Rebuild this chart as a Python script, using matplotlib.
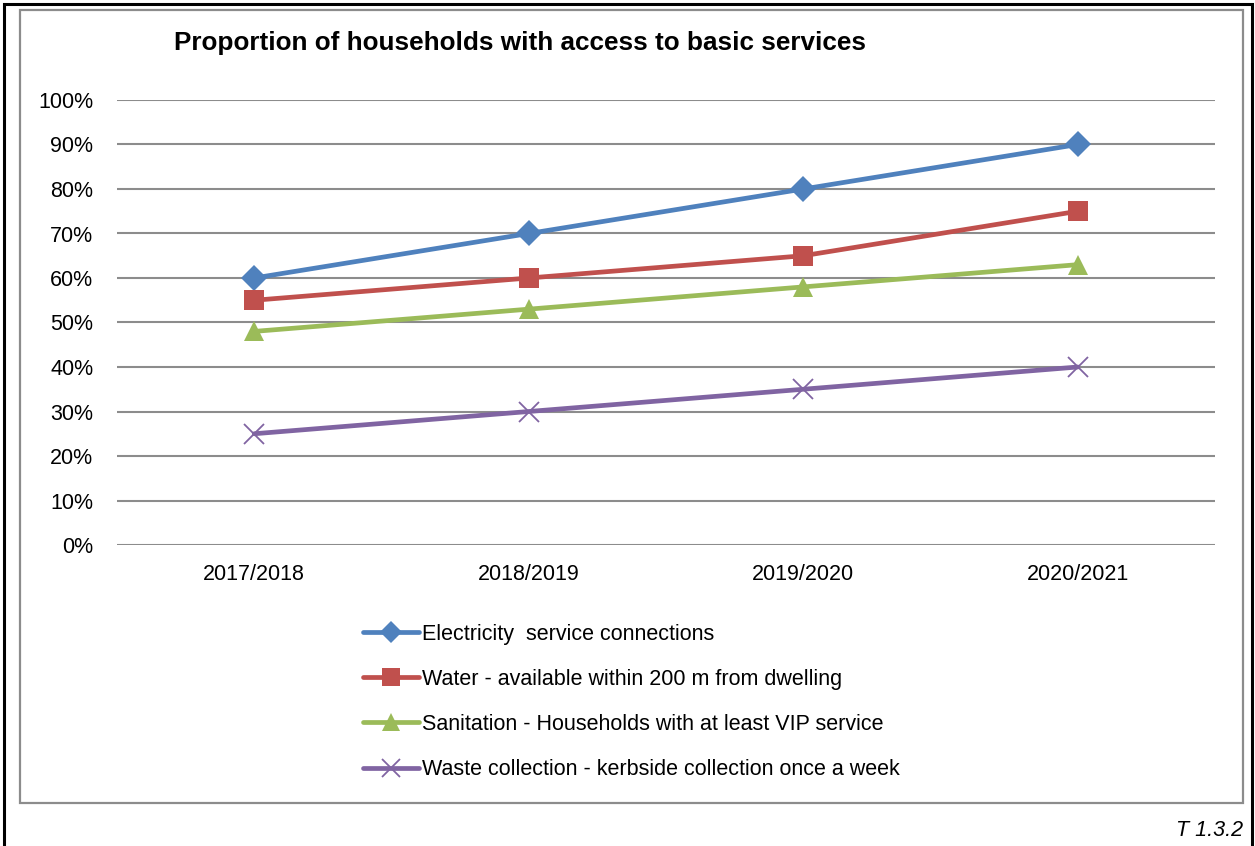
import matplotlib
matplotlib.use("Agg")
import matplotlib.pyplot as plt
from matplotlib.patches import Rectangle
from matplotlib.ticker import PercentFormatter

plt.rcParams['font.family'] = ['Liberation Sans', 'DejaVu Sans']

years = ["2017/2018", "2018/2019", "2019/2020", "2020/2021"]
electricity = [60, 70, 80, 90]
water = [55, 60, 65, 75]
sanitation = [48, 53, 58, 63]
waste = [25, 30, 35, 40]

series_labels = [
    "Electricity  service connections",
    "Water - available within 200 m from dwelling",
    "Sanitation - Households with at least VIP service",
    "Waste collection - kerbside collection once a week",
]
series_values = [electricity, water, sanitation, waste]
series_colors = ["#4F81BD", "#C0504D", "#9BBB59", "#8064A2"]
series_markers = ["D", "s", "^", "x"]
marker_sizes = [13, 14.4, 14.5, 13.7]

W, H = 1255, 846
fig = plt.figure(figsize=(W / 100, H / 100), dpi=100)
fig.patch.set_facecolor("white")

def fx(px):
    return px / W

def fy(py):
    return 1 - py / H

# outer page frame and inner chart frame
fig.patches.append(Rectangle((fx(4), fy(900)), fx(1252) - fx(4), fy(4) - fy(900),
                             transform=fig.transFigure, fill=False,
                             edgecolor="black", linewidth=2.2, clip_on=False))
fig.patches.append(Rectangle((fx(20), fy(803)), fx(1243) - fx(20), fy(10) - fy(803),
                             transform=fig.transFigure, fill=False,
                             edgecolor="#8c8c8c", linewidth=1.6))

ax = fig.add_axes([fx(117), fy(545), fx(1215) - fx(117), fy(100) - fy(545)])
x = list(range(len(years)))
handles = []
for vals, lab, col, mk, ms in zip(series_values, series_labels, series_colors,
                                   series_markers, marker_sizes):
    kw = dict(markeredgewidth=1.3) if mk == "x" else dict(markeredgewidth=0)
    h, = ax.plot(x, vals, color=col, linewidth=3.4, marker=mk, markersize=ms,
                 markerfacecolor=col, markeredgecolor=col, label=lab,
                 solid_capstyle="round", zorder=3, **kw)
    handles.append(h)

ax.set_xlim(-0.5, len(years) - 0.5)
ax.set_ylim(0, 100)
ax.set_yticks(range(0, 101, 10))
ax.yaxis.set_major_formatter(PercentFormatter(decimals=0))
ax.set_xticks(x)
ax.set_xticklabels(years)
ax.grid(axis="y", color="#8c8c8c", linewidth=1.5)
ax.set_axisbelow(True)
for s in ax.spines.values():
    s.set_visible(False)
ax.tick_params(axis="both", length=0, labelsize=15.5, colors="black")
ax.tick_params(axis="y", pad=17)
ax.tick_params(axis="x", pad=14)

fig.text(fx(520), fy(43), "Proportion of households with access to basic services",
         ha="center", va="center", fontsize=18.8, fontweight="bold")

fig.legend(handles=handles, loc="upper left",
           bbox_to_anchor=(fx(352), fy(613)), frameon=False,
           fontsize=15.5, handlelength=2.6, handletextpad=0.15,
           labelspacing=1.12, borderpad=0, markerscale=0.9)

fig.text(fx(1243), fy(830), "T 1.3.2", ha="right", va="center",
         fontsize=15.5, fontstyle="italic")

fig.savefig("out.png", dpi=100)
